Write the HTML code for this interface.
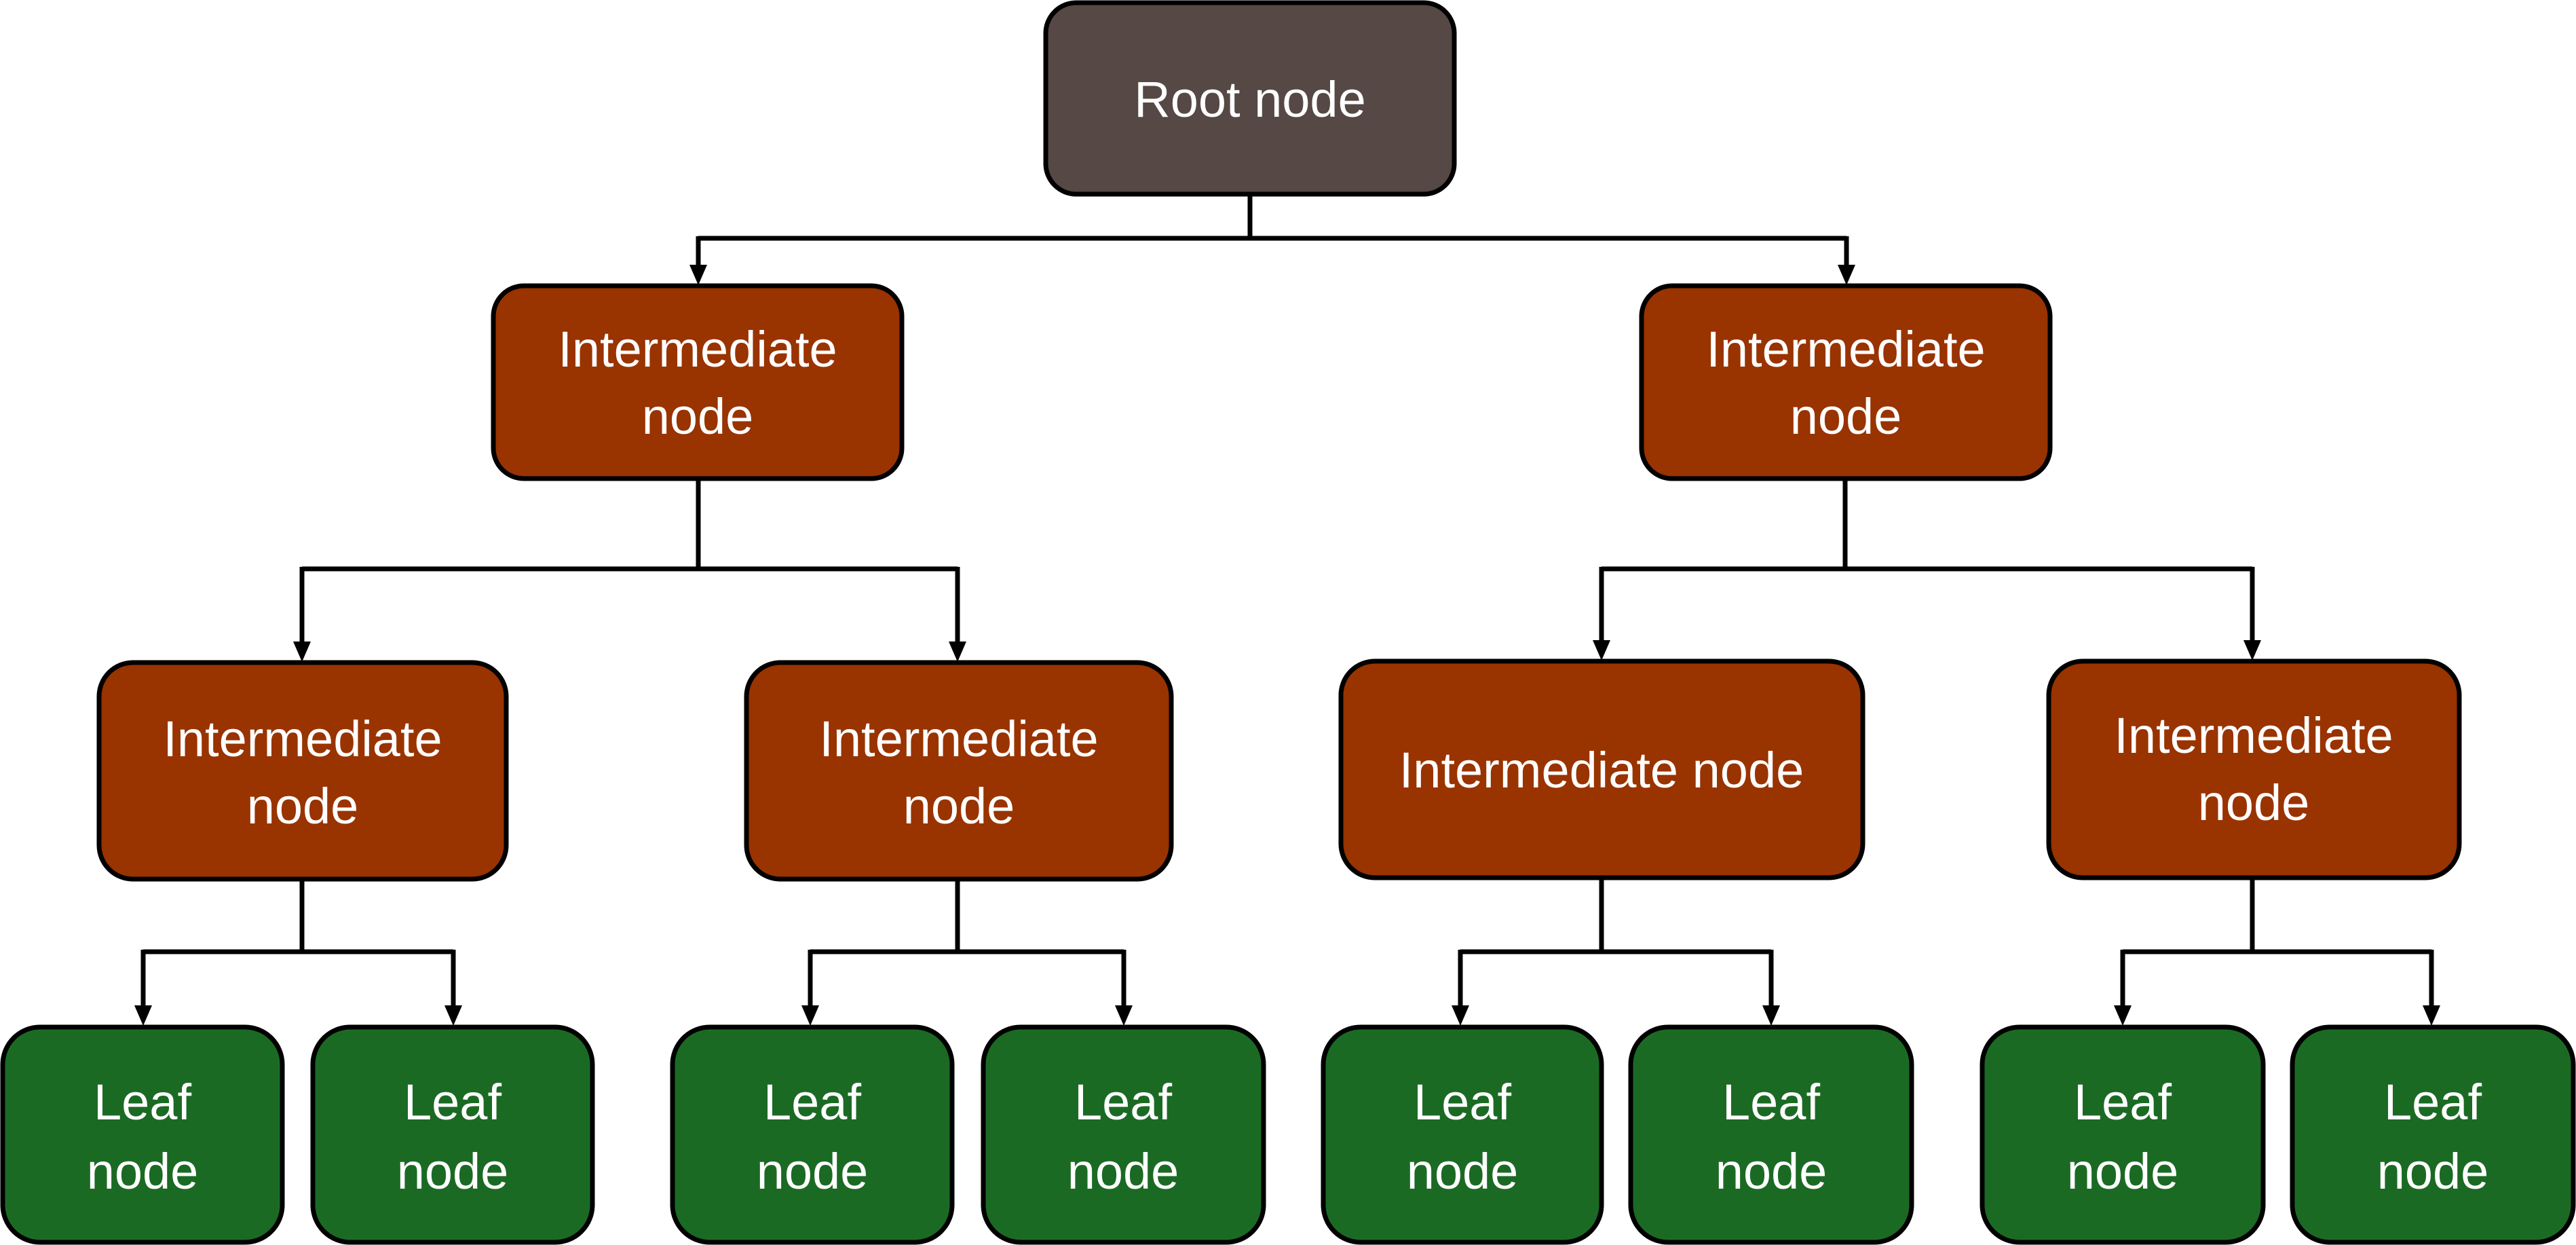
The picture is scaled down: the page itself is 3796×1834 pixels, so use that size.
<!DOCTYPE html>
<html><head><meta charset="utf-8"><style>html,body{margin:0;padding:0;background:#fff}svg{display:block}</style></head>
<body>
<svg width="3796" height="1834" viewBox="0 0 3796 1834" xmlns="http://www.w3.org/2000/svg" font-family="'Liberation Sans', sans-serif" font-size="74" fill="#fff">
<g stroke="#000" stroke-width="7" fill="none">
<path d="M1842,286 V351 M1029,351 H2721"/>
<path d="M1029,348 V395"/><path d="M2721,348 V395"/>
<path d="M1029,705 V838 M445,838 H1411"/>
<path d="M445,835 V950"/><path d="M1411,835 V950"/>
<path d="M2719,705 V838 M2360,838 H3319"/>
<path d="M2360,835 V948"/><path d="M3319,835 V948"/>
<path d="M445,1295 V1402 M211,1402 H668"/>
<path d="M211,1399 V1486"/><path d="M668,1399 V1486"/>
<path d="M1411,1295 V1402 M1194,1402 H1656"/>
<path d="M1194,1399 V1486"/><path d="M1656,1399 V1486"/>
<path d="M2360,1293 V1402 M2152,1402 H2610"/>
<path d="M2152,1399 V1486"/><path d="M2610,1399 V1486"/>
<path d="M3319,1293 V1402 M3128,1402 H3583"/>
<path d="M3128,1399 V1486"/><path d="M3583,1399 V1486"/>
</g>
<g fill="#000">
<path d="M1016,390 h26 l-13,30 z"/><path d="M2708,390 h26 l-13,30 z"/>
<path d="M432,945 h26 l-13,30 z"/><path d="M1398,945 h26 l-13,30 z"/>
<path d="M2347,943 h26 l-13,30 z"/><path d="M3306,943 h26 l-13,30 z"/>
<path d="M198,1481 h26 l-13,30 z"/><path d="M655,1481 h26 l-13,30 z"/>
<path d="M1181,1481 h26 l-13,30 z"/><path d="M1643,1481 h26 l-13,30 z"/>
<path d="M2139,1481 h26 l-13,30 z"/><path d="M2597,1481 h26 l-13,30 z"/>
<path d="M3115,1481 h26 l-13,30 z"/><path d="M3570,1481 h26 l-13,30 z"/>
</g>
<g stroke="#000" stroke-width="7">
<rect x="1541" y="4" width="602" height="282" rx="45" fill="#554845"/>
<rect x="727" y="421" width="602" height="284" rx="45" fill="#993300"/>
<rect x="2419" y="421" width="602" height="284" rx="45" fill="#993300"/>
<rect x="146" y="976" width="600" height="319" rx="50" fill="#993300"/>
<rect x="1100" y="976" width="626" height="319" rx="50" fill="#993300"/>
<rect x="1976" y="974" width="769" height="319" rx="50" fill="#993300"/>
<rect x="3019" y="974" width="605" height="319" rx="50" fill="#993300"/>
<rect x="4" y="1513" width="412" height="317" rx="55" fill="#1b6a24"/>
<rect x="461" y="1513" width="412" height="317" rx="55" fill="#1b6a24"/>
<rect x="991" y="1513" width="412" height="317" rx="55" fill="#1b6a24"/>
<rect x="1449" y="1513" width="413" height="317" rx="55" fill="#1b6a24"/>
<rect x="1950" y="1513" width="410" height="317" rx="55" fill="#1b6a24"/>
<rect x="2403" y="1513" width="414" height="317" rx="55" fill="#1b6a24"/>
<rect x="2921" y="1513" width="414" height="317" rx="55" fill="#1b6a24"/>
<rect x="3378" y="1513" width="414" height="317" rx="55" fill="#1b6a24"/>
</g>
<g text-anchor="middle">
<text x="1842" y="172">Root node</text>
<text x="1028" y="540">Intermediate</text><text x="1028" y="639">node</text>
<text x="2720" y="540">Intermediate</text><text x="2720" y="639">node</text>
<text x="446" y="1114">Intermediate</text><text x="446" y="1213">node</text>
<text x="1413" y="1114">Intermediate</text><text x="1413" y="1213">node</text>
<text x="2360" y="1160">Intermediate node</text>
<text x="3321" y="1109">Intermediate</text><text x="3321" y="1208">node</text>
<text x="210" y="1649">Leaf</text><text x="210" y="1751">node</text>
<text x="667" y="1649">Leaf</text><text x="667" y="1751">node</text>
<text x="1197" y="1649">Leaf</text><text x="1197" y="1751">node</text>
<text x="1655" y="1649">Leaf</text><text x="1655" y="1751">node</text>
<text x="2155" y="1649">Leaf</text><text x="2155" y="1751">node</text>
<text x="2610" y="1649">Leaf</text><text x="2610" y="1751">node</text>
<text x="3128" y="1649">Leaf</text><text x="3128" y="1751">node</text>
<text x="3585" y="1649">Leaf</text><text x="3585" y="1751">node</text>
</g>
</svg>
</body></html>
